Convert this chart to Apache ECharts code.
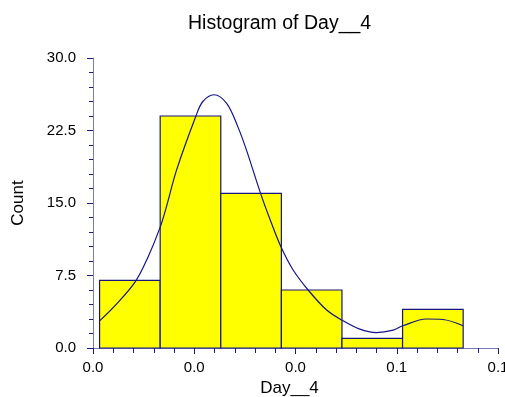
<!DOCTYPE html>
<html>
<head>
<meta charset="utf-8">
<title>Histogram of Day__4</title>
<script src="https://cdn.jsdelivr.net/npm/echarts@6/dist/echarts.min.js"></script>
<style>
  html, body { margin: 0; padding: 0; background: #fff; }
  #chart { width: 505px; height: 397px; }
</style>
</head>
<body>
<div id="chart"></div>
<script>
// Histogram bins: left edge of first bin, common bin width, counts per bin
const binStart = 0.0013;
const binWidth = 0.01197;
const counts = [7, 24, 16, 6, 1, 4];

// Density overlay (scaled to counts), sampled along x
const curveX = [0.0013, 0.0043, 0.0084, 0.0109, 0.0132, 0.0145, 0.0165, 0.0203, 0.0217, 0.0239,
                0.0264, 0.0286, 0.0303, 0.0331, 0.0349, 0.0371, 0.0395, 0.0425, 0.0461, 0.0491,
                0.0527, 0.0560, 0.0593, 0.0612, 0.0659, 0.0691, 0.0731];
const curveY = [2.8, 4.35, 6.9, 9.45, 12.4, 14.6, 18.4, 23.95, 25.5, 26.2,
                25.3, 22.9, 20.5, 16.0, 13.4, 10.5, 8.1, 6.0, 3.95, 2.9,
                1.95, 1.6, 1.85, 2.3, 3.0, 2.95, 2.3];

// Axis tick labels
const xTickLabels = ["0.0", "0.0", "0.0", "0.1", "0.1"];
const yTickLabels = ["0.0", "7.5", "15.0", "22.5", "30.0"];

const barData = counts.map((c, i) => [binStart + i * binWidth, binStart + (i + 1) * binWidth, c]);
const curveData = curveX.map((x, i) => [x, curveY[i]]);

const FONT = 'Liberation Sans, Arial, sans-serif';
const chart = echarts.init(document.getElementById('chart'), null, { renderer: 'canvas' });

chart.setOption({
  animation: false,
  backgroundColor: '#ffffff',
  title: {
    text: 'Histogram of Day__4',
    left: 183,
    top: 9,
    textStyle: { fontFamily: FONT, fontSize: 19.5, fontWeight: 'normal', color: '#000' }
  },
  grid: { left: 93, right: 7, top: 58, bottom: 49, containLabel: false, outerBoundsMode: 'none' },
  xAxis: {
    type: 'value',
    min: 0,
    max: 0.08,
    interval: 0.02,
    name: 'Day__4',
    nameLocation: 'middle',
    nameGap: 29,
    nameTextStyle: { fontFamily: FONT, fontSize: 17, color: '#000', padding: [0, 12, 0, 0] },
    axisLine: { show: true, lineStyle: { color: '#7a7ab8', width: 1 } },
    axisTick: { show: true, length: 6, lineStyle: { color: '#1a1a80' } },
    minorTick: { show: true, splitNumber: 5, length: 5, lineStyle: { color: '#1a1a80' } },
    splitLine: { show: false },
    axisLabel: {
      margin: 12,
      fontFamily: FONT, fontSize: 15, color: '#000',
      formatter: v => xTickLabels[Math.round(v / 0.02)]
    }
  },
  yAxis: {
    type: 'value',
    min: 0,
    max: 30,
    interval: 7.5,
    name: 'Count',
    nameLocation: 'middle',
    nameGap: 66,
    nameRotate: 90,
    nameTextStyle: { fontFamily: FONT, fontSize: 17, color: '#000' },
    axisLine: { show: true, lineStyle: { color: '#7a7ab8', width: 1 } },
    axisTick: { show: true, length: 6, lineStyle: { color: '#1a1a80' } },
    minorTick: { show: true, splitNumber: 5, length: 4, lineStyle: { color: '#1a1a80' } },
    splitLine: { show: false },
    axisLabel: {
      margin: 17,
      fontFamily: FONT, fontSize: 15, color: '#000',
      formatter: v => yTickLabels[Math.round(v / 7.5)]
    }
  },
  series: [
    {
      type: 'custom',
      name: 'Count',
      data: barData,
      encode: { x: [0, 1], y: 2 },
      renderItem: function (params, api) {
        const p0 = api.coord([api.value(0), 0]);
        const p1 = api.coord([api.value(1), api.value(2)]);
        return {
          type: 'rect',
          shape: { x: p0[0], y: p1[1], width: p1[0] - p0[0], height: p0[1] - p1[1] },
          style: { fill: '#ffff00', stroke: '#16167e', lineWidth: 1.2 }
        };
      },
      z: 2
    },
    {
      type: 'line',
      name: 'Density',
      data: curveData,
      smooth: 0.35,
      showSymbol: false,
      lineStyle: { color: '#14148a', width: 1.2 },
      z: 3
    }
  ]
});
</script>
</body>
</html>
